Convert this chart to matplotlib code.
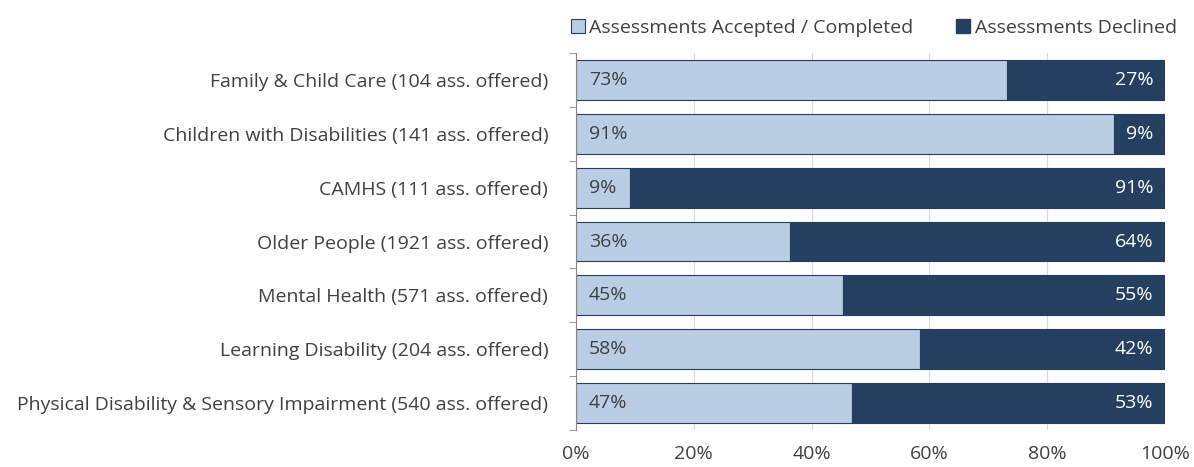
import matplotlib
matplotlib.use("Agg")
from matplotlib import pyplot as plt
from matplotlib.patches import Patch

plt.rcParams['font.family'] = ['Open Sans', 'DejaVu Sans']

# data (top to bottom)
services = [
    "Family & Child Care (104 ass. offered)",
    "Children with Disabilities (141 ass. offered)",
    "CAMHS (111 ass. offered)",
    "Older People (1921 ass. offered)",
    "Mental Health (571 ass. offered)",
    "Learning Disability (204 ass. offered)",
    "Physical Disability & Sensory Impairment (540 ass. offered)",
]
accepted = [73.2, 91.4, 9.2, 36.3, 45.3, 58.4, 46.9]
declined = [100 - a for a in accepted]

light = "#b9cde5"
dark = "#243f60"
txt = "#404040"
fs = 14

fig = plt.figure(figsize=(11.94, 4.67), dpi=100)
ax = fig.add_axes([0.4824, 0.0792, 0.9757 - 0.4824, 0.8865 - 0.0792])

ypos = list(range(len(services)))[::-1]
ax.barh(ypos, accepted, height=0.74, color=light, edgecolor=dark, linewidth=0.8, zorder=2)
ax.barh(ypos, declined, left=accepted, height=0.74, color=dark, edgecolor=dark,
        linewidth=0.8, zorder=2)

for y, a, d in zip(ypos, accepted, declined):
    ax.text(2.2, y, f"{a:.0f}%", va="center", ha="left", fontsize=fs, color=txt, zorder=3)
    ax.text(98.0, y, f"{d:.0f}%", va="center", ha="right", fontsize=fs, color="white", zorder=3)

ax.set_xlim(0, 100)
ax.set_ylim(-0.5, 6.5)
ax.set_yticks(ypos)
ax.set_yticklabels(services, fontsize=fs, color=txt)
ax.set_yticks([i + 0.5 for i in range(-1, 7)], minor=True)
ax.tick_params(axis="y", which="major", length=0, pad=20)
ax.tick_params(axis="y", which="minor", length=5, color="#868686", direction="out")

ax.set_xticks(range(0, 101, 20))
ax.set_xticklabels([f"{v}%" for v in range(0, 101, 20)], fontsize=fs, color=txt)
ax.tick_params(axis="x", length=0, pad=11)
ax.grid(axis="x", color="#d9d9d9", linewidth=0.8, zorder=0)

for s in ["top", "right", "bottom"]:
    ax.spines[s].set_visible(False)
ax.spines["left"].set_color("#868686")
ax.spines["left"].set_zorder(4)

handles = [Patch(facecolor=light, edgecolor=dark, linewidth=0.8),
           Patch(facecolor=dark, edgecolor=dark)]
fig.legend(handles, ["Assessments Accepted / Completed", "Assessments Declined"],
           loc="center", bbox_to_anchor=(0.732, 0.94), ncol=2, frameon=False,
           fontsize=fs, handlelength=0.7, handleheight=0.7, handletextpad=0.25,
           columnspacing=2.2, labelcolor=txt)

plt.savefig("out.png", dpi=100)
